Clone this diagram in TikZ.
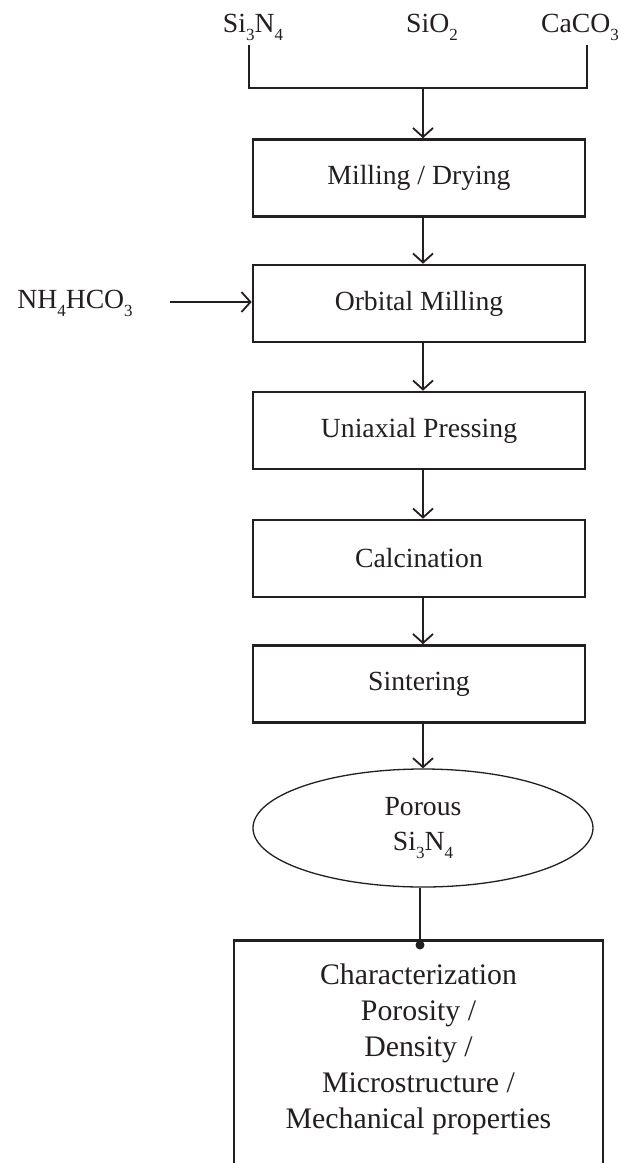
\documentclass[tikz,border=0pt]{standalone}
\usepackage{fontspec}
\setmainfont{Liberation Serif}
\usetikzlibrary{arrows.meta,shapes.geometric}
\definecolor{ink}{RGB}{35,31,32}
\newcommand\chsub[1]{\raisebox{-0.32em}{\fontsize{17}{17}\selectfont #1}}
\begin{document}
\begin{tikzpicture}[x=1pt,y=-1pt,
  txt/.style={font=\fontsize{27.7}{35}\selectfont, text=ink, inner sep=0pt},
  procbox/.style={txt, draw=ink, line width=2.6pt, minimum width=332pt, minimum height=77pt},
  ellbox/.style={txt, ellipse, draw=ink, line width=1.3pt, minimum width=340pt, minimum height=118pt, align=center},
  conn/.style={draw=ink, line width=1.8pt},
  arr/.style={conn, -{Straight Barb[length=9pt,width=20pt]}}]
\useasboundingbox (0,0) rectangle (626,1163);
\clip (0,0) rectangle (626,1163);
\fill[white] (0,0) rectangle (626,1163);

% raw materials
\node[txt, anchor=base] (si) at (253,32) {Si\chsub{3}N\chsub{4}};
\node[txt, anchor=base] (sio) at (432,32) {SiO\chsub{2}};
\node[txt, anchor=base] (ca) at (580,32) {CaCO\chsub{3}};
\node[txt, anchor=base] (nh) at (75,308) {NH\chsub{4}HCO\chsub{3}};

% process boxes
\node[procbox] (mill) at (419,178) {Milling / Drying};
\node[procbox] (orb) at (419,303.5) {Orbital Milling};
\node[procbox] (uni) at (419,430.5) {Uniaxial Pressing};
\node[procbox] (cal) at (419,558.5) {Calcination};
\node[procbox] (sin) at (419,684) {Sintering};
\node[ellbox] (por) at (423,828) {Porous\\Si\chsub{3}N\chsub{4}};

% characterization box (cut off at bottom)
\node[draw=ink, line width=2.6pt, minimum width=369pt, minimum height=300pt, inner sep=0pt, anchor=north] (chr) at (418.5,939) {};
\node[font=\fontsize{29.8}{36}\selectfont, text=ink, inner sep=0pt, align=center, anchor=north] (chrtext) at (418.5,963.5)
  {Characterization\\Porosity /\\Density /\\Microstructure /\\Mechanical properties};

% connectors
\coordinate (ax) at (423,0);
\coordinate (tl) at (249,45);
\coordinate (tr) at (587,45);
\coordinate (jl) at (249,88);
\coordinate (jr) at (587,88);
\coordinate (jm) at (423,88);
\draw[conn] (tl) -- (jl) -- (jr) -- (tr);
\draw[arr] (jm) -- (mill.north -| jm);
\draw[arr] (mill.south -| ax) -- (orb.north -| ax);
\draw[arr] (orb.south -| ax) -- (uni.north -| ax);
\draw[arr] (uni.south -| ax) -- (cal.north -| ax);
\draw[arr] (cal.south -| ax) -- (sin.north -| ax);
\draw[arr] (sin.south -| ax) -- (por.north -| ax);
\coordinate (nhs) at (170,302);
\draw[arr] (nhs) -- (orb.west |- nhs);
\coordinate (dot) at (420,945);
\draw[conn] (por.south -| dot) -- (dot);
\fill[ink] (dot) circle (4.5);
\end{tikzpicture}
\end{document}
